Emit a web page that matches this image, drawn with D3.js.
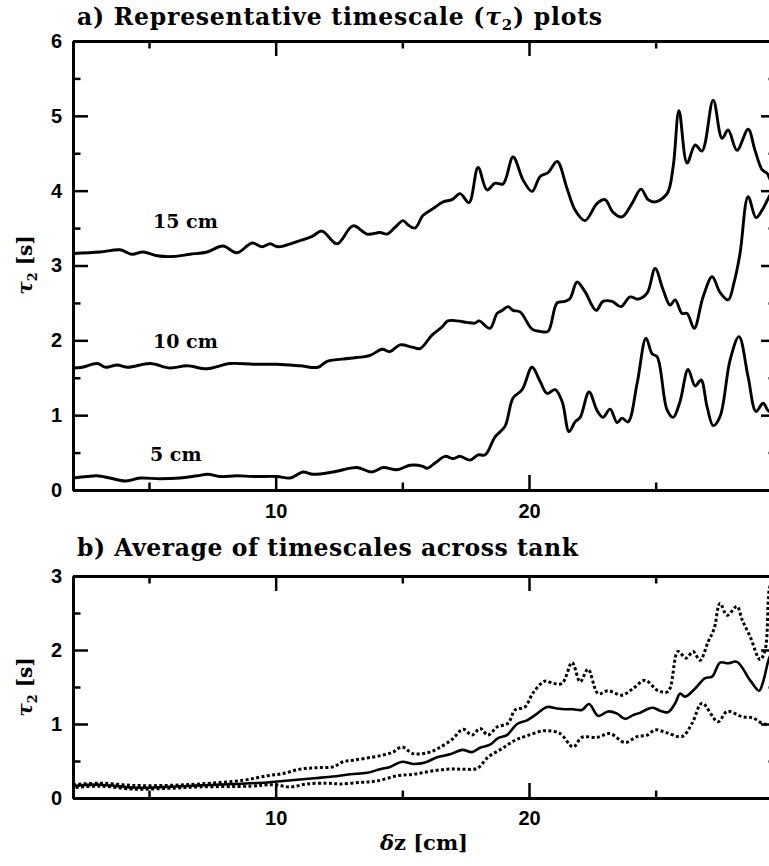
<!DOCTYPE html>
<html>
<head>
<meta charset="utf-8">
<script src="https://cdn.jsdelivr.net/npm/d3@7"></script>
<style>
  html, body { margin: 0; padding: 0; background: #fff; }
  svg { display: block; }
</style>
</head>
<body>
<div id="chart"></div>
<script>
// δz [cm] and τ2 [s] for the three representative depths (panel a)
const cm15X = [2.00,3.07,3.86,4.33,4.76,5.32,5.95,6.62,7.29,7.92,8.47,9.07,9.46,9.78,10.09,10.84,11.44,11.83,12.42,13.05,13.61,14.12,14.40,14.71,15.03,15.23,15.50,15.82,16.21,16.61,16.96,17.28,17.63,17.99,18.34,18.66,18.98,19.37,19.77,20.12,20.44,20.75,21.11,21.50,21.82,22.21,22.69,23.00,23.32,23.67,24.07,24.42,24.70,24.98,25.45,25.69,25.92,26.24,26.56,26.83,27.27,27.62,27.86,28.21,28.65,28.92,29.20,29.40,29.60,29.75];
const cm15Y = [3.16,3.18,3.21,3.15,3.18,3.13,3.12,3.15,3.18,3.26,3.17,3.30,3.25,3.29,3.25,3.32,3.39,3.46,3.29,3.53,3.42,3.44,3.42,3.51,3.60,3.54,3.50,3.67,3.76,3.85,3.88,3.96,3.84,4.31,4.01,4.10,4.09,4.45,4.14,3.99,4.19,4.24,4.39,4.03,3.74,3.60,3.83,3.88,3.71,3.65,3.83,4.02,3.88,3.85,3.96,4.32,5.07,4.37,4.61,4.53,5.21,4.70,4.81,4.54,4.82,4.54,4.28,4.23,4.08,4.01];

const cm10X = [2.00,2.36,2.95,3.30,3.74,4.17,5.04,5.83,6.50,7.29,8.20,9.11,10.05,10.96,11.67,12.03,12.94,13.73,14.20,14.51,14.91,15.38,15.70,16.17,16.57,16.80,17.16,17.55,17.87,18.03,18.46,18.74,18.94,19.17,19.37,19.65,20.12,20.44,20.75,21.11,21.42,21.62,21.90,22.21,22.65,22.92,23.28,23.63,23.99,24.31,24.66,24.98,25.29,25.57,25.77,26.04,26.24,26.52,26.87,27.23,27.54,27.86,28.10,28.33,28.65,28.96,29.20,29.48,29.75];
const cm10Y = [1.63,1.64,1.69,1.64,1.67,1.64,1.69,1.63,1.66,1.62,1.69,1.68,1.68,1.66,1.64,1.72,1.76,1.80,1.88,1.85,1.94,1.91,1.89,2.07,2.18,2.26,2.26,2.24,2.23,2.26,2.16,2.36,2.40,2.45,2.40,2.38,2.15,2.12,2.12,2.50,2.52,2.56,2.78,2.65,2.40,2.52,2.52,2.45,2.58,2.55,2.63,2.96,2.68,2.47,2.54,2.36,2.36,2.16,2.58,2.85,2.64,2.54,2.78,3.16,3.92,3.64,3.74,3.92,4.08];

const cm5X = [2.00,2.55,2.95,3.46,4.05,4.65,5.43,6.22,6.90,7.33,7.80,8.47,9.11,10.05,10.57,11.08,11.47,12.26,13.21,13.80,14.24,14.79,15.30,15.78,15.98,16.29,16.69,17.00,17.28,17.67,17.99,18.27,18.66,19.05,19.37,19.73,20.12,20.44,20.71,21.03,21.31,21.58,21.82,22.02,22.37,22.69,22.92,23.20,23.48,23.67,23.91,24.27,24.62,24.86,25.06,25.45,25.69,25.96,26.28,26.56,26.79,27.03,27.27,27.54,27.94,28.29,28.65,28.96,29.24,29.48,29.75];
const cm5Y = [0.16,0.18,0.19,0.16,0.12,0.16,0.15,0.16,0.19,0.21,0.18,0.19,0.18,0.18,0.16,0.24,0.21,0.24,0.30,0.24,0.30,0.27,0.33,0.32,0.29,0.36,0.45,0.42,0.45,0.40,0.47,0.47,0.71,0.85,1.23,1.34,1.64,1.45,1.29,1.34,1.18,0.78,0.91,0.97,1.31,1.06,0.97,1.08,0.90,0.96,0.91,1.43,2.03,1.82,1.78,1.07,0.97,1.18,1.61,1.39,1.47,1.11,0.86,0.98,1.74,2.05,1.51,1.05,1.16,1.05,1.14];

// Average across the tank and its spread (panel b)
const meanX = [2.00,3.07,4.37,5.71,7.01,8.32,9.66,10.29,10.96,11.63,12.26,12.94,13.61,14.12,14.51,14.99,15.42,15.90,16.37,16.88,17.36,17.75,18.07,18.46,18.78,19.13,19.53,19.92,20.32,20.71,21.11,21.42,21.74,22.09,22.37,22.73,23.12,23.48,23.79,24.11,24.38,24.66,24.90,25.17,25.49,25.77,25.96,26.16,26.56,26.95,27.23,27.54,27.86,28.21,28.73,29.08,29.24,29.48,29.75];
const meanY = [0.16,0.18,0.14,0.15,0.17,0.19,0.21,0.23,0.25,0.27,0.29,0.32,0.34,0.39,0.42,0.49,0.46,0.48,0.55,0.59,0.65,0.62,0.68,0.72,0.81,0.85,1.00,1.05,1.14,1.23,1.21,1.20,1.20,1.19,1.27,1.11,1.17,1.14,1.07,1.12,1.15,1.20,1.22,1.18,1.16,1.28,1.41,1.37,1.48,1.62,1.64,1.83,1.82,1.84,1.59,1.45,1.57,1.89,2.07];

const upperX = [2.00,3.07,4.37,5.71,7.01,8.71,9.66,10.29,10.96,11.63,12.26,12.66,13.05,13.61,14.24,14.63,14.99,15.42,15.98,16.41,16.96,17.40,17.75,18.07,18.38,18.74,19.17,19.45,19.84,20.16,20.63,20.95,21.31,21.70,22.02,22.33,22.73,23.12,23.67,24.11,24.58,25.10,25.49,25.88,26.20,26.48,26.75,27.07,27.31,27.54,27.82,28.21,28.41,28.73,29.12,29.32,29.48,29.60];
const upperY = [0.18,0.20,0.17,0.17,0.19,0.24,0.30,0.33,0.39,0.41,0.42,0.49,0.51,0.54,0.58,0.62,0.69,0.60,0.61,0.67,0.79,0.93,0.85,0.94,0.85,0.96,1.01,1.19,1.23,1.42,1.58,1.55,1.55,1.83,1.57,1.74,1.41,1.45,1.39,1.48,1.59,1.45,1.44,1.98,1.89,1.98,1.86,2.11,2.29,2.63,2.47,2.59,2.41,2.18,1.87,2.00,2.81,2.95];

const lowerX = [2.00,3.07,4.37,5.71,7.01,8.99,9.90,10.57,11.24,12.03,12.54,13.33,14.00,14.79,15.42,16.09,16.77,17.36,17.95,18.38,18.94,19.45,19.92,20.63,21.23,21.74,22.09,22.69,23.20,23.79,24.27,24.66,24.98,25.45,26.04,26.44,26.83,27.46,27.82,28.41,28.85,29.20,29.48,29.75];
const lowerY = [0.14,0.16,0.12,0.13,0.15,0.16,0.18,0.15,0.19,0.20,0.19,0.21,0.23,0.30,0.32,0.36,0.39,0.39,0.40,0.55,0.67,0.78,0.84,0.91,0.87,0.69,0.82,0.82,0.87,0.75,0.83,0.85,0.92,0.88,0.83,1.01,1.28,1.03,1.17,1.10,1.08,1.01,0.99,1.00];

// Axis ticks and labels
const xDomain = [2, 29.75];
const xMajorTicks = [10, 20, 30];
const xLabelled = [10, 20];
const xMinorTicks = [5, 15, 25];
const yTicksA = [0, 1, 2, 3, 4, 5, 6];
const yMinorA = [0.5, 1.5, 2.5, 3.5, 4.5, 5.5];
const yTicksB = [0, 1, 2, 3];
const yMinorB = [0.5, 1.5, 2.5];

const curveLabels = [
  { text: "15 cm", x: 5.16, y: 3.50 },
  { text: "10 cm", x: 5.16, y: 1.90 },
  { text: "5 cm",  x: 5.04, y: 0.39 }
];

const W = 769, H = 866;
const serif = "'DejaVu Serif', serif";
const sans = "'Liberation Sans', Arial, sans-serif";

const svg = d3.select("#chart").append("svg")
  .attr("width", W).attr("height", H)
  .attr("viewBox", `0 0 ${W} ${H}`);
svg.append("rect").attr("width", W).attr("height", H).attr("fill", "#fff");

const x = d3.scaleLinear().domain(xDomain).range([73, 776]);
const yA = d3.scaleLinear().domain([0, 6]).range([490, 41]);
const yB = d3.scaleLinear().domain([0, 3]).range([798, 576]);

const zip = (xs, ys) => xs.map((v, i) => [v, ys[i]]);

function frame(y, yMajor, yMinor, id, labelPad) {
  const g = svg.append("g");
  const [y0, y1] = y.range();
  const [x0, x1] = x.range();
  const major = 15, minor = 7.5;

  const style = sel => {
    sel.selectAll(".domain").attr("stroke", "#000").attr("stroke-width", 2.8);
    sel.selectAll(".tick line").attr("stroke", "#000").attr("stroke-width", 2.5);
  };
  const labelStyle = s => s.selectAll("text")
    .attr("font-family", sans).attr("font-weight", "bold").attr("font-size", 20).attr("fill", "#000");

  // bottom
  g.append("g").attr("transform", `translate(0,${y0})`)
    .call(d3.axisBottom(x).tickValues(xMajorTicks).tickSizeInner(-major).tickSizeOuter(0).tickPadding(labelPad)
      .tickFormat(d => xLabelled.includes(d) ? d3.format("d")(d) : ""))
    .call(style).call(labelStyle);
  g.append("g").attr("transform", `translate(0,${y0})`)
    .call(d3.axisBottom(x).tickValues(xMinorTicks).tickSizeInner(-minor).tickSizeOuter(0).tickFormat(""))
    .call(style);
  // top
  g.append("g").attr("transform", `translate(0,${y1})`)
    .call(d3.axisTop(x).tickValues(xMajorTicks).tickSizeInner(-major).tickSizeOuter(0).tickFormat(""))
    .call(style);
  g.append("g").attr("transform", `translate(0,${y1})`)
    .call(d3.axisTop(x).tickValues(xMinorTicks).tickSizeInner(-minor).tickSizeOuter(0).tickFormat(""))
    .call(style);
  // left
  g.append("g").attr("transform", `translate(${x0},0)`)
    .call(d3.axisLeft(y).tickValues(yMajor).tickSizeInner(-major).tickSizeOuter(0).tickPadding(11).tickFormat(d3.format("d")))
    .call(style).call(labelStyle);
  g.append("g").attr("transform", `translate(${x0},0)`)
    .call(d3.axisLeft(y).tickValues(yMinor).tickSizeInner(-minor).tickSizeOuter(0).tickFormat(""))
    .call(style);
  // right
  g.append("g").attr("transform", `translate(${x1},0)`)
    .call(d3.axisRight(y).tickValues(yMajor).tickSizeInner(-major).tickSizeOuter(0).tickFormat(""))
    .call(style);
  g.append("g").attr("transform", `translate(${x1},0)`)
    .call(d3.axisRight(y).tickValues(yMinor).tickSizeInner(-minor).tickSizeOuter(0).tickFormat(""))
    .call(style);

  svg.append("clipPath").attr("id", id)
    .append("rect").attr("x", x0).attr("y", y1).attr("width", x1 - x0).attr("height", y0 - y1);
}

function yLabel(cy) {
  const t = svg.append("text")
    .attr("transform", `translate(32,${cy}) rotate(-90)`)
    .attr("text-anchor", "middle")
    .attr("font-family", serif).attr("font-weight", "bold").attr("font-size", 20);
  t.append("tspan").attr("font-style", "italic").text("τ");
  t.append("tspan").attr("font-size", 13).attr("dy", 5).text("2");
  t.append("tspan").attr("dy", -5).text(" [s]");
}

const title = (txt, yy, len) => {
  const t = svg.append("text").attr("x", 77).attr("y", yy)
    .attr("font-family", serif).attr("font-weight", "bold").attr("font-size", 23.5)
    .attr("textLength", len).attr("lengthAdjust", "spacing");
  txt(t);
};

// ---- Panel a ----
frame(yA, yTicksA, yMinorA, "clipA", 14);

title(t => {
  t.append("tspan").text("a) Representative timescale (");
  t.append("tspan").attr("font-style", "italic").text("τ");
  t.append("tspan").attr("font-size", 15).attr("dy", 5).text("2");
  t.append("tspan").attr("dy", -5).text(") plots");
}, 25, 525);

yLabel(265);

const lineA = d3.line().x(d => x(d[0])).y(d => yA(d[1])).curve(d3.curveCatmullRom.alpha(0.5));
const gA = svg.append("g").attr("clip-path", "url(#clipA)");
[[cm15X, cm15Y], [cm10X, cm10Y], [cm5X, cm5Y]].forEach(([xs, ys]) => {
  gA.append("path").attr("d", lineA(zip(xs, ys)))
    .attr("fill", "none").attr("stroke", "#000").attr("stroke-width", 2.9)
    .attr("stroke-linejoin", "round").attr("stroke-linecap", "round");
});

svg.selectAll(".clabel").data(curveLabels).join("text")
  .attr("class", "clabel")
  .attr("x", d => x(d.x)).attr("y", d => yA(d.y))
  .attr("font-family", serif).attr("font-weight", "bold").attr("font-size", 19)
  .text(d => d.text);

// ---- Panel b ----
frame(yB, yTicksB, yMinorB, "clipB", 13);

title(t => {
  t.append("tspan").text("b) Average of timescales across tank");
}, 556, 501);

yLabel(687);

const lineB = d3.line().x(d => x(d[0])).y(d => yB(d[1])).curve(d3.curveCatmullRom.alpha(0.5));
const gB = svg.append("g").attr("clip-path", "url(#clipB)");
gB.append("path").attr("d", lineB(zip(meanX, meanY)))
  .attr("fill", "none").attr("stroke", "#000").attr("stroke-width", 2.6)
  .attr("stroke-linejoin", "round");
[[upperX, upperY], [lowerX, lowerY]].forEach(([xs, ys], i) => {
  gB.append("path").attr("d", lineB(zip(xs, ys)))
    .attr("fill", "none").attr("stroke", "#000").attr("stroke-width", 3)
    .attr("stroke-dasharray", "3,2.4").attr("stroke-dashoffset", i * 2.7);
});

// x-axis title
const xl = svg.append("text").attr("x", 424).attr("y", 850)
  .attr("text-anchor", "middle")
  .attr("font-family", serif).attr("font-weight", "bold").attr("font-size", 21);
xl.append("tspan").attr("font-style", "italic").text("δ");
xl.append("tspan").text("z [cm]");
</script>
</body>
</html>
